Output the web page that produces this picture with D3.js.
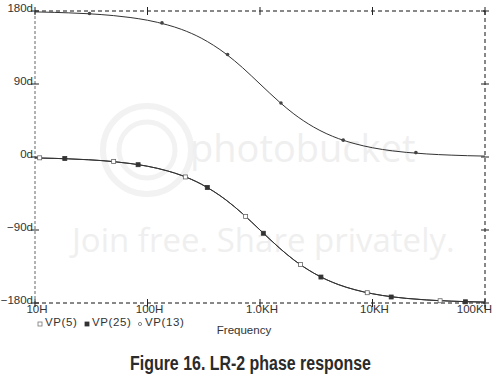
<!DOCTYPE html>
<html>
<head>
<meta charset="utf-8">
<script src="https://cdn.jsdelivr.net/npm/d3@7"></script>
<style>
  body { margin: 0; background: #fff; }
  svg { display: block; }
  .lbl { font-family: "Liberation Sans", Arial, sans-serif; font-size: 11.5px; fill: #333; }
</style>
</head>
<body>
<div class="chart"></div>
<script>
// frequency points (Hz)
var freqs = [10, 15, 20, 30, 50, 70, 100, 150, 200, 300, 500, 700, 1000, 1500, 2000,
  3000, 5000, 7000, 10000, 15000, 20000, 30000, 50000, 70000, 100000];
// phase in degrees
var vp5 = [-1.1, -1.7, -2.3, -3.4, -5.7, -8.0, -11.4, -17.1, -22.6, -33.4, -53.1, -69.9, -90,
  -112.6, -126.9, -143.1, -157.4, -163.7, -168.6, -172.4, -174.3, -176.2, -177.7, -178.4, -178.9];
var vp25 = [-1.1, -1.7, -2.3, -3.4, -5.7, -8.0, -11.4, -17.1, -22.6, -33.4, -53.1, -69.9, -90,
  -112.6, -126.9, -143.1, -157.4, -163.7, -168.6, -172.4, -174.3, -176.2, -177.7, -178.4, -178.9];
var vp13 = [178.9, 178.3, 177.7, 176.6, 174.3, 172.0, 168.6, 162.9, 157.4, 146.6, 126.9, 110.1, 90,
  67.4, 53.1, 36.9, 22.6, 16.3, 11.4, 7.6, 5.7, 3.8, 2.3, 1.6, 1.1];

// marker positions as they appear on the traces
var vp5MarkF = [11, 50, 217, 745, 2295, 8980, 39900];
var vp5MarkP = [-1.0, -5.4, -24.6, -73.2, -132.5, -167.3, -177.2];
var vp25MarkF = [18.4, 82.5, 340, 1070, 3480, 14660, 66950];
var vp25MarkP = [-1.8, -9.5, -37.5, -94, -148, -172.6, -178.5];
var vp13MarkF = [30.5, 134.5, 515, 1536, 5495, 24300];
var vp13MarkP = [177.0, 165.3, 126.4, 66.5, 20.8, 5.4];

var xTicks = [10, 100, 1000, 10000, 100000];
var xLabels = ["10H", "100H", "1.0KH", "10KH", "100KH"];
var yTicks = [180, 90, 0, -90, -180];
var yLabels = ["180d", "90d", "0d", "\u221290d", "\u2212180d"];
var legendNames = ["VP(5)", "VP(25)", "VP(13)"];

var svgWidth = 502;
var svgHeight = 381;
var margin = {top: 11, right: 17, bottom: 78, left: 35};
var width = svgWidth - margin.left - margin.right;
var height = svgHeight - margin.top - margin.bottom;

var root = d3.select(".chart").append("svg")
  .attr("width", svgWidth)
  .attr("height", svgHeight);

// faint watermark
var wm = root.append("g").attr("font-family", "Open Sans, sans-serif").attr("fill", "#efefef");
wm.append("circle").attr("cx", 147).attr("cy", 150).attr("r", 44)
  .attr("fill", "none").attr("stroke", "#f2f2f2").attr("stroke-width", 6);
wm.append("circle").attr("cx", 147).attr("cy", 150).attr("r", 28)
  .attr("fill", "none").attr("stroke", "#f2f2f2").attr("stroke-width", 5);
wm.append("text").attr("x", 190).attr("y", 162).attr("font-size", 38).text("photobucket");
wm.append("text").attr("x", 72).attr("y", 252).attr("font-size", 33).text("Join free. Share privately.");

var svg = root.append("g")
  .attr("transform", "translate(" + margin.left + "," + margin.top + ")");

var x = d3.scaleLog().domain([10, 100000]).range([0, width]);
var y = d3.scaleLinear().domain([-180, 180]).range([height, 0]);

// frame
svg.append("line").attr("x1", 0).attr("x2", width).attr("y1", 0).attr("y2", 0)
  .attr("stroke", "#111").attr("stroke-dasharray", "4,3");
svg.append("line").attr("x1", 0).attr("x2", width).attr("y1", height).attr("y2", height)
  .attr("stroke", "#111").attr("stroke-dasharray", "4,3");
svg.append("line").attr("x1", width).attr("x2", width).attr("y1", 0).attr("y2", height + 6)
  .attr("stroke", "#111").attr("stroke-dasharray", "4,3");
svg.append("line").attr("x1", 0).attr("x2", 0).attr("y1", 0).attr("y2", height + 4)
  .attr("stroke", "#999").attr("stroke-width", 1.5).attr("stroke-dasharray", "3,2");

// tick crosses
xTicks.forEach(function(t) {
  [0, height].forEach(function(yy) {
    svg.append("line").attr("x1", x(t)).attr("x2", x(t)).attr("y1", yy - 4).attr("y2", yy + 4)
      .attr("stroke", "#222");
  });
});
yTicks.forEach(function(t) {
  [0, width].forEach(function(xx) {
    svg.append("line").attr("x1", xx - 4).attr("x2", xx + 4).attr("y1", y(t)).attr("y2", y(t))
      .attr("stroke", "#222");
  });
});

// axis labels
svg.selectAll(".ylbl").data(yTicks).enter().append("text")
  .attr("class", "lbl")
  .attr("x", -2)
  .attr("y", function(d) { return y(d) + 1; })
  .attr("text-anchor", "end")
  .text(function(d, i) { return yLabels[i]; });

svg.selectAll(".xlbl").data(xTicks).enter().append("text")
  .attr("class", "lbl")
  .attr("x", function(d, i) { return i === xTicks.length - 1 ? x(d) + 7 : x(d) + 2; })
  .attr("y", height + 10)
  .attr("text-anchor", function(d, i) { return i === xTicks.length - 1 ? "end" : "middle"; })
  .text(function(d, i) { return xLabels[i]; });

// traces
var line = d3.line()
  .x(function(d) { return x(d[0]); })
  .y(function(d) { return y(d[1]); })
  .curve(d3.curveMonotoneX);

[vp5, vp25, vp13].forEach(function(s) {
  svg.append("path")
    .datum(d3.zip(freqs, s))
    .attr("fill", "none")
    .attr("stroke", "#333")
    .attr("stroke-width", 1)
    .attr("d", line);
});

// markers
function squares(fs, ps, filled) {
  svg.selectAll(null).data(d3.zip(fs, ps)).enter().append("rect")
    .attr("x", function(d) { return x(d[0]) - 2; })
    .attr("y", function(d) { return y(d[1]) - 2; })
    .attr("width", 4).attr("height", 4)
    .attr("fill", filled ? "#333" : "#fff")
    .attr("stroke", filled ? "#333" : "#666")
    .attr("stroke-width", 0.8);
}
squares(vp5MarkF, vp5MarkP, false);
squares(vp25MarkF, vp25MarkP, true);
svg.selectAll(null).data(d3.zip(vp13MarkF, vp13MarkP)).enter().append("circle")
  .attr("cx", function(d) { return x(d[0]); })
  .attr("cy", function(d) { return y(d[1]); })
  .attr("r", 1.8)
  .attr("fill", "#444");

// legend
var lg = root.append("g").attr("transform", "translate(0,326)");
var lgX = [40, 87, 140];
lgX.forEach(function(lx, i) {
  if (i < 2) {
    lg.append("rect").attr("x", lx - 2).attr("y", -4).attr("width", 4).attr("height", 4)
      .attr("fill", i === 1 ? "#333" : "#fff").attr("stroke", i === 1 ? "#333" : "#777")
      .attr("stroke-width", 0.8);
  } else {
    lg.append("circle").attr("cx", lx).attr("cy", -2).attr("r", 1.6)
      .attr("fill", "none").attr("stroke", "#666").attr("stroke-width", 0.8);
  }
  lg.append("text").attr("class", "lbl").attr("x", lx + 5).attr("y", 0)
    .attr("letter-spacing", 0.6).text(legendNames[i]);
});

root.append("text").attr("class", "lbl")
  .attr("x", 244).attr("y", 334)
  .attr("text-anchor", "middle")
  .text("Frequency");

root.append("text")
  .attr("x", 130).attr("y", 370)
  .attr("font-family", "Liberation Sans Narrow, Arial Narrow, sans-serif")
  .attr("font-weight", "bold")
  .attr("font-size", 20)
  .attr("textLength", 241)
  .attr("lengthAdjust", "spacingAndGlyphs")
  .attr("fill", "#2b2b2b")
  .text("Figure 16. LR-2 phase response");
</script>
</body>
</html>
